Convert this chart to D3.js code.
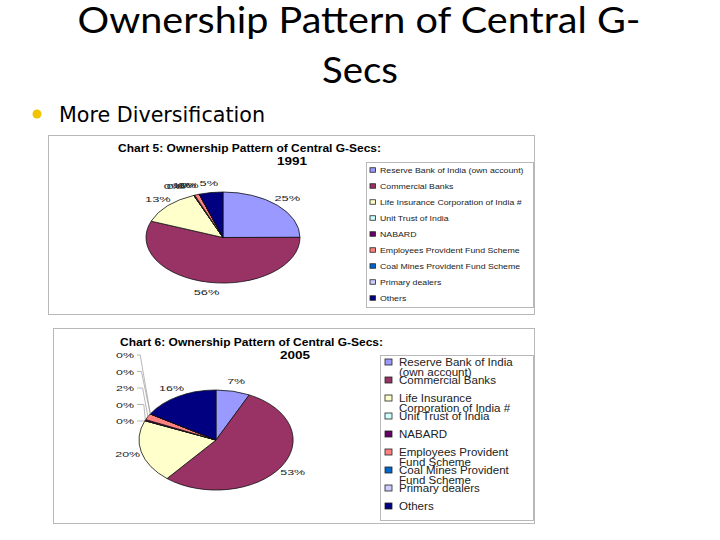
<!DOCTYPE html>
<html>
<head>
<meta charset="utf-8">
<script src="https://cdn.jsdelivr.net/npm/d3@7/dist/d3.min.js"></script>
<style>
  body { margin: 0; background: #fff; }
  svg { display: block; }
</style>
</head>
<body>
<div id="chart"></div>
<script>
// Page size
const width = 720;
const height = 540;

// Data
const categories = [
  "Reserve Bank of India (own account)",
  "Commercial Banks",
  "Life Insurance Corporation of India #",
  "Unit Trust of India",
  "NABARD",
  "Employees Provident Fund Scheme",
  "Coal Mines Provident Fund Scheme",
  "Primary dealers",
  "Others"
];
const legend2005Lines = [
  ["Reserve Bank of India", "(own account)"],
  ["Commercial Banks"],
  ["Life Insurance", "Corporation of India #"],
  ["Unit Trust of India"],
  ["NABARD"],
  ["Employees Provident", "Fund Scheme"],
  ["Coal Mines Provident", "Fund Scheme"],
  ["Primary dealers"],
  ["Others"]
];
const share1991 = [25, 56, 13, 0, 0.2, 1, 0, 0, 5];
const share2005 = [7, 53, 20, 0, 0.4, 2, 0, 0, 16];
const colors = ["#9999ff", "#993366", "#ffffcc", "#ccffff", "#660066",
                "#ff8080", "#0066cc", "#ccccff", "#000080"];

const svg = d3.select("#chart")
  .append("svg")
  .attr("width", width)
  .attr("height", height);

// stretch text horizontally by factor k (the pasted charts are squashed)
function stretch(sel, k) {
  sel.each(function() {
    const w = this.getComputedTextLength();
    d3.select(this).attr("textLength", w * k).attr("lengthAdjust", "spacingAndGlyphs");
  });
}

// Slide title
svg.append("text")
  .attr("x", 359).attr("y", 33)
  .attr("text-anchor", "middle")
  .style("font-family", "Lato, 'Open Sans', sans-serif")
  .style("font-size", "36px")
  .attr("textLength", 563).attr("lengthAdjust", "spacingAndGlyphs")
  .text("Ownership Pattern of Central G-");

svg.append("text")
  .attr("x", 360).attr("y", 83)
  .attr("text-anchor", "middle")
  .style("font-family", "Lato, 'Open Sans', sans-serif")
  .style("font-size", "36px")
  .attr("textLength", 76).attr("lengthAdjust", "spacingAndGlyphs")
  .text("Secs");

svg.append("circle")
  .attr("cx", 37).attr("cy", 114).attr("r", 4.5)
  .attr("fill", "#f0c400");

svg.append("text")
  .attr("x", 59).attr("y", 122)
  .style("font-family", "'DejaVu Sans Condensed', 'DejaVu Sans', sans-serif")
  .style("font-size", "21px")
  .attr("textLength", 206).attr("lengthAdjust", "spacingAndGlyphs")
  .text("More Diversification");

const pie = d3.pie().sort(null).value(d => d);
const unitArc = d3.arc().innerRadius(0).outerRadius(1);

function drawChart(cfg) {
  const g = svg.append("g");

  // frame
  g.append("rect")
    .attr("x", cfg.box[0] + 0.5).attr("y", cfg.box[1] + 0.5)
    .attr("width", cfg.box[2]).attr("height", cfg.box[3])
    .attr("fill", "#fff")
    .attr("stroke", "#b8b8b8");

  // title
  g.append("text")
    .attr("x", cfg.titleX).attr("y", cfg.titleY)
    .style("font-family", "'Liberation Sans', Arial, sans-serif")
    .style("font-weight", "bold")
    .style("font-size", "10px")
    .attr("textLength", cfg.titleW).attr("lengthAdjust", "spacingAndGlyphs")
    .text(cfg.title);
  g.append("text")
    .attr("x", cfg.yearX).attr("y", cfg.titleY + 13)
    .style("font-family", "'Liberation Sans', Arial, sans-serif")
    .style("font-weight", "bold")
    .style("font-size", "10px")
    .attr("textLength", 30).attr("lengthAdjust", "spacingAndGlyphs")
    .text(cfg.year);

  // pie, drawn on a unit circle and squashed into an ellipse
  const arcs = pie(cfg.values);
  g.append("g")
    .attr("transform", `translate(${cfg.cx},${cfg.cy}) scale(${cfg.rx},${cfg.ry})`)
    .selectAll("path")
    .data(arcs)
    .join("path")
    .attr("d", unitArc)
    .attr("fill", (d, i) => colors[i])
    .attr("stroke", "#111")
    .attr("stroke-width", 0.8)
    .attr("vector-effect", "non-scaling-stroke");

  const edge = a => [cfg.cx + cfg.rx * Math.sin(a), cfg.cy - cfg.ry * Math.cos(a)];
  const mid = d => (d.startAngle + d.endAngle) / 2;

  // percentage labels
  const labels = g.append("g")
    .style("font-family", "'Liberation Sans', Arial, sans-serif")
    .style("font-size", "8px")
    .attr("fill", "#222");

  arcs.forEach((d, i) => {
    let x, y;
    const a = mid(d);
    const p = edge(a);
    if (cfg.stacked && cfg.stacked.includes(i)) {
      const j = cfg.stacked.indexOf(i);
      x = cfg.stackX;
      y = cfg.stackY - j * 16.5;
      const bx = cfg.stackX + 5 + (cfg.stacked.length - j) * 1.2;
      g.append("polyline")
        .attr("points", [[cfg.stackX + 3, y], [bx, y], p].map(q => q.join(",")).join(" "))
        .attr("fill", "none")
        .attr("stroke", "#999")
        .attr("stroke-width", 0.7);
      labels.append("text")
        .attr("x", x).attr("y", y + 3)
        .attr("text-anchor", "end")
        .text(Math.round(cfg.values[i]) + "%")
        .call(stretch, cfg.k);
      return;
    }
    x = p[0] + Math.sin(a) * 14;
    y = p[1] - Math.cos(a) * 10;
    if (cfg.nudge && cfg.nudge.includes(i)) {
      x -= (cfg.nudge.length - cfg.nudge.indexOf(i)) * 2.5 + 3;
    }
    labels.append("text")
      .attr("x", x).attr("y", y + 3)
      .attr("text-anchor", "middle")
      .text(Math.round(cfg.values[i]) + "%")
      .call(stretch, cfg.k);
  });

  // legend
  const L = cfg.legend;
  g.append("rect")
    .attr("x", L.box[0] + 0.5).attr("y", L.box[1] + 0.5)
    .attr("width", L.box[2]).attr("height", L.box[3])
    .attr("fill", "#fff")
    .attr("stroke", "#b8b8b8");

  const items = g.append("g").selectAll("g")
    .data(L.lines)
    .join("g")
    .attr("transform", (d, i) => `translate(${L.x},${L.y0 + i * L.step})`);

  items.append("rect")
    .attr("x", 0).attr("y", -L.m / 2)
    .attr("width", L.m + 1).attr("height", L.m)
    .attr("fill", (d, i) => colors[i])
    .attr("stroke", "#222")
    .attr("stroke-width", 0.8);

  items.each(function(lines) {
    const t = d3.select(this).append("text")
      .attr("x", L.tx).attr("y", L.fs * 0.36)
      .style("font-family", "'Liberation Sans', Arial, sans-serif")
      .style("font-size", L.fs + "px")
      .attr("fill", "#222");
    lines.forEach((s, k) => {
      t.append("tspan")
        .attr("x", L.tx)
        .attr("dy", k === 0 ? 0 : L.lh)
        .text(s)
        .call(stretch, L.k);
    });
  });
}

drawChart({
  box: [48, 135, 486, 179],
  title: "Chart 5: Ownership Pattern of Central G-Secs:",
  titleX: 118, titleY: 152, titleW: 263,
  year: "1991", yearX: 277,
  values: share1991,
  cx: 223, cy: 237.5, rx: 77, ry: 45.5,
  k: 1.6,
  nudge: [3, 4, 5, 6, 7],
  legend: {
    box: [366, 162, 167, 145],
    lines: categories.map(c => [c]),
    x: 370, y0: 170, step: 16, m: 4.5, tx: 10, fs: 7, lh: 8, k: 1.25
  }
});

drawChart({
  box: [53, 328, 481, 195],
  title: "Chart 6: Ownership Pattern of Central G-Secs:",
  titleX: 120, titleY: 346, titleW: 263,
  year: "2005", yearX: 280,
  values: share2005,
  cx: 216, cy: 440, rx: 77, ry: 50,
  k: 1.55,
  stacked: [3, 4, 5, 6, 7],
  stackX: 134, stackY: 421,
  legend: {
    box: [380, 355, 153, 165],
    lines: legend2005Lines,
    x: 385, y0: 362, step: 18, m: 6, tx: 14, fs: 11, lh: 10, k: 1.05
  }
});
</script>
</body>
</html>
